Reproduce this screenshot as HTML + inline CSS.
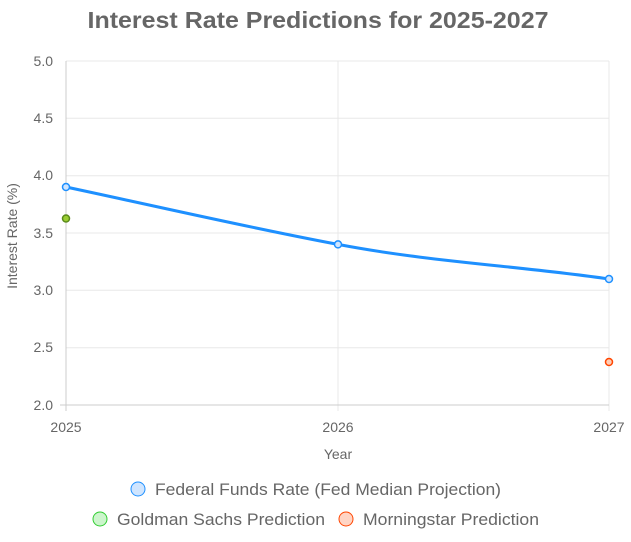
<!DOCTYPE html>
<html><head><meta charset="utf-8"><style>
html,body{margin:0;padding:0;background:#fff;}
svg{display:block;font-family:"Liberation Sans",Arial,sans-serif;}
</style></head><body>
<svg width="631" height="542" viewBox="0 0 631 542">
<text x="318" y="28" text-anchor="middle" font-size="23" font-weight="bold" fill="#666" textLength="461" lengthAdjust="spacingAndGlyphs">Interest Rate Predictions for 2025-2027</text>
<g stroke="#e8e8e8" stroke-width="1">
<line x1="66" y1="61" x2="609" y2="61"/>
<line x1="66" y1="118.3" x2="609" y2="118.3"/>
<line x1="66" y1="175.7" x2="609" y2="175.7"/>
<line x1="66" y1="233" x2="609" y2="233"/>
<line x1="66" y1="290.3" x2="609" y2="290.3"/>
<line x1="66" y1="347.7" x2="609" y2="347.7"/>
<line x1="338" y1="61" x2="338" y2="411"/>
<line x1="609" y1="61" x2="609" y2="411"/>
</g>
<line x1="66" y1="61" x2="66" y2="411" stroke="#ccc"/>
<line x1="60" y1="405" x2="609" y2="405" stroke="#ccc"/>
<g font-size="14" fill="#666" text-anchor="end">
<text x="53" y="66">5.0</text><text x="53" y="123">4.5</text><text x="53" y="180">4.0</text>
<text x="53" y="238">3.5</text><text x="53" y="295">3.0</text><text x="53" y="352">2.5</text><text x="53" y="410">2.0</text>
</g>
<g font-size="14" fill="#666" text-anchor="middle">
<text x="66" y="432">2025</text><text x="338" y="432">2026</text><text x="609" y="432">2027</text>
<text x="338" y="459">Year</text>
</g>
<text transform="translate(17,236) rotate(-90)" font-size="14" fill="#666" text-anchor="middle">Interest Rate (%)</text>
<path d="M66,187 C160,207 250,228 338,244.4 C430,262 520,266 609,279" fill="none" stroke="#1e90ff" stroke-width="3"/>
<g stroke-width="1.5">
<circle cx="66" cy="187" r="3.5" fill="#cfe5ff" stroke="#1e90ff"/>
<circle cx="338" cy="244.4" r="3.5" fill="#cfe5ff" stroke="#1e90ff"/>
<circle cx="609" cy="279" r="3.5" fill="#cfe5ff" stroke="#1e90ff"/>
<circle cx="66" cy="218.5" r="3.5" fill="#9acd32" stroke="#5a8a1a"/>
<circle cx="609" cy="362" r="3.5" fill="#ffcdb5" stroke="#ff4500"/>
</g>
<g font-size="17" fill="#666">
<circle cx="138" cy="489" r="7" fill="#cfe5ff" stroke="#1e90ff" stroke-width="1"/>
<text x="155" y="495" textLength="346" lengthAdjust="spacingAndGlyphs">Federal Funds Rate (Fed Median Projection)</text>
<circle cx="100" cy="519" r="7" fill="#ccf5cc" stroke="#32cd32" stroke-width="1"/>
<text x="117" y="525" textLength="208" lengthAdjust="spacingAndGlyphs">Goldman Sachs Prediction</text>
<circle cx="346" cy="519" r="7" fill="#ffd5c5" stroke="#ff4500" stroke-width="1"/>
<text x="363" y="525" textLength="176" lengthAdjust="spacingAndGlyphs">Morningstar Prediction</text>
</g>
</svg>
</body></html>
